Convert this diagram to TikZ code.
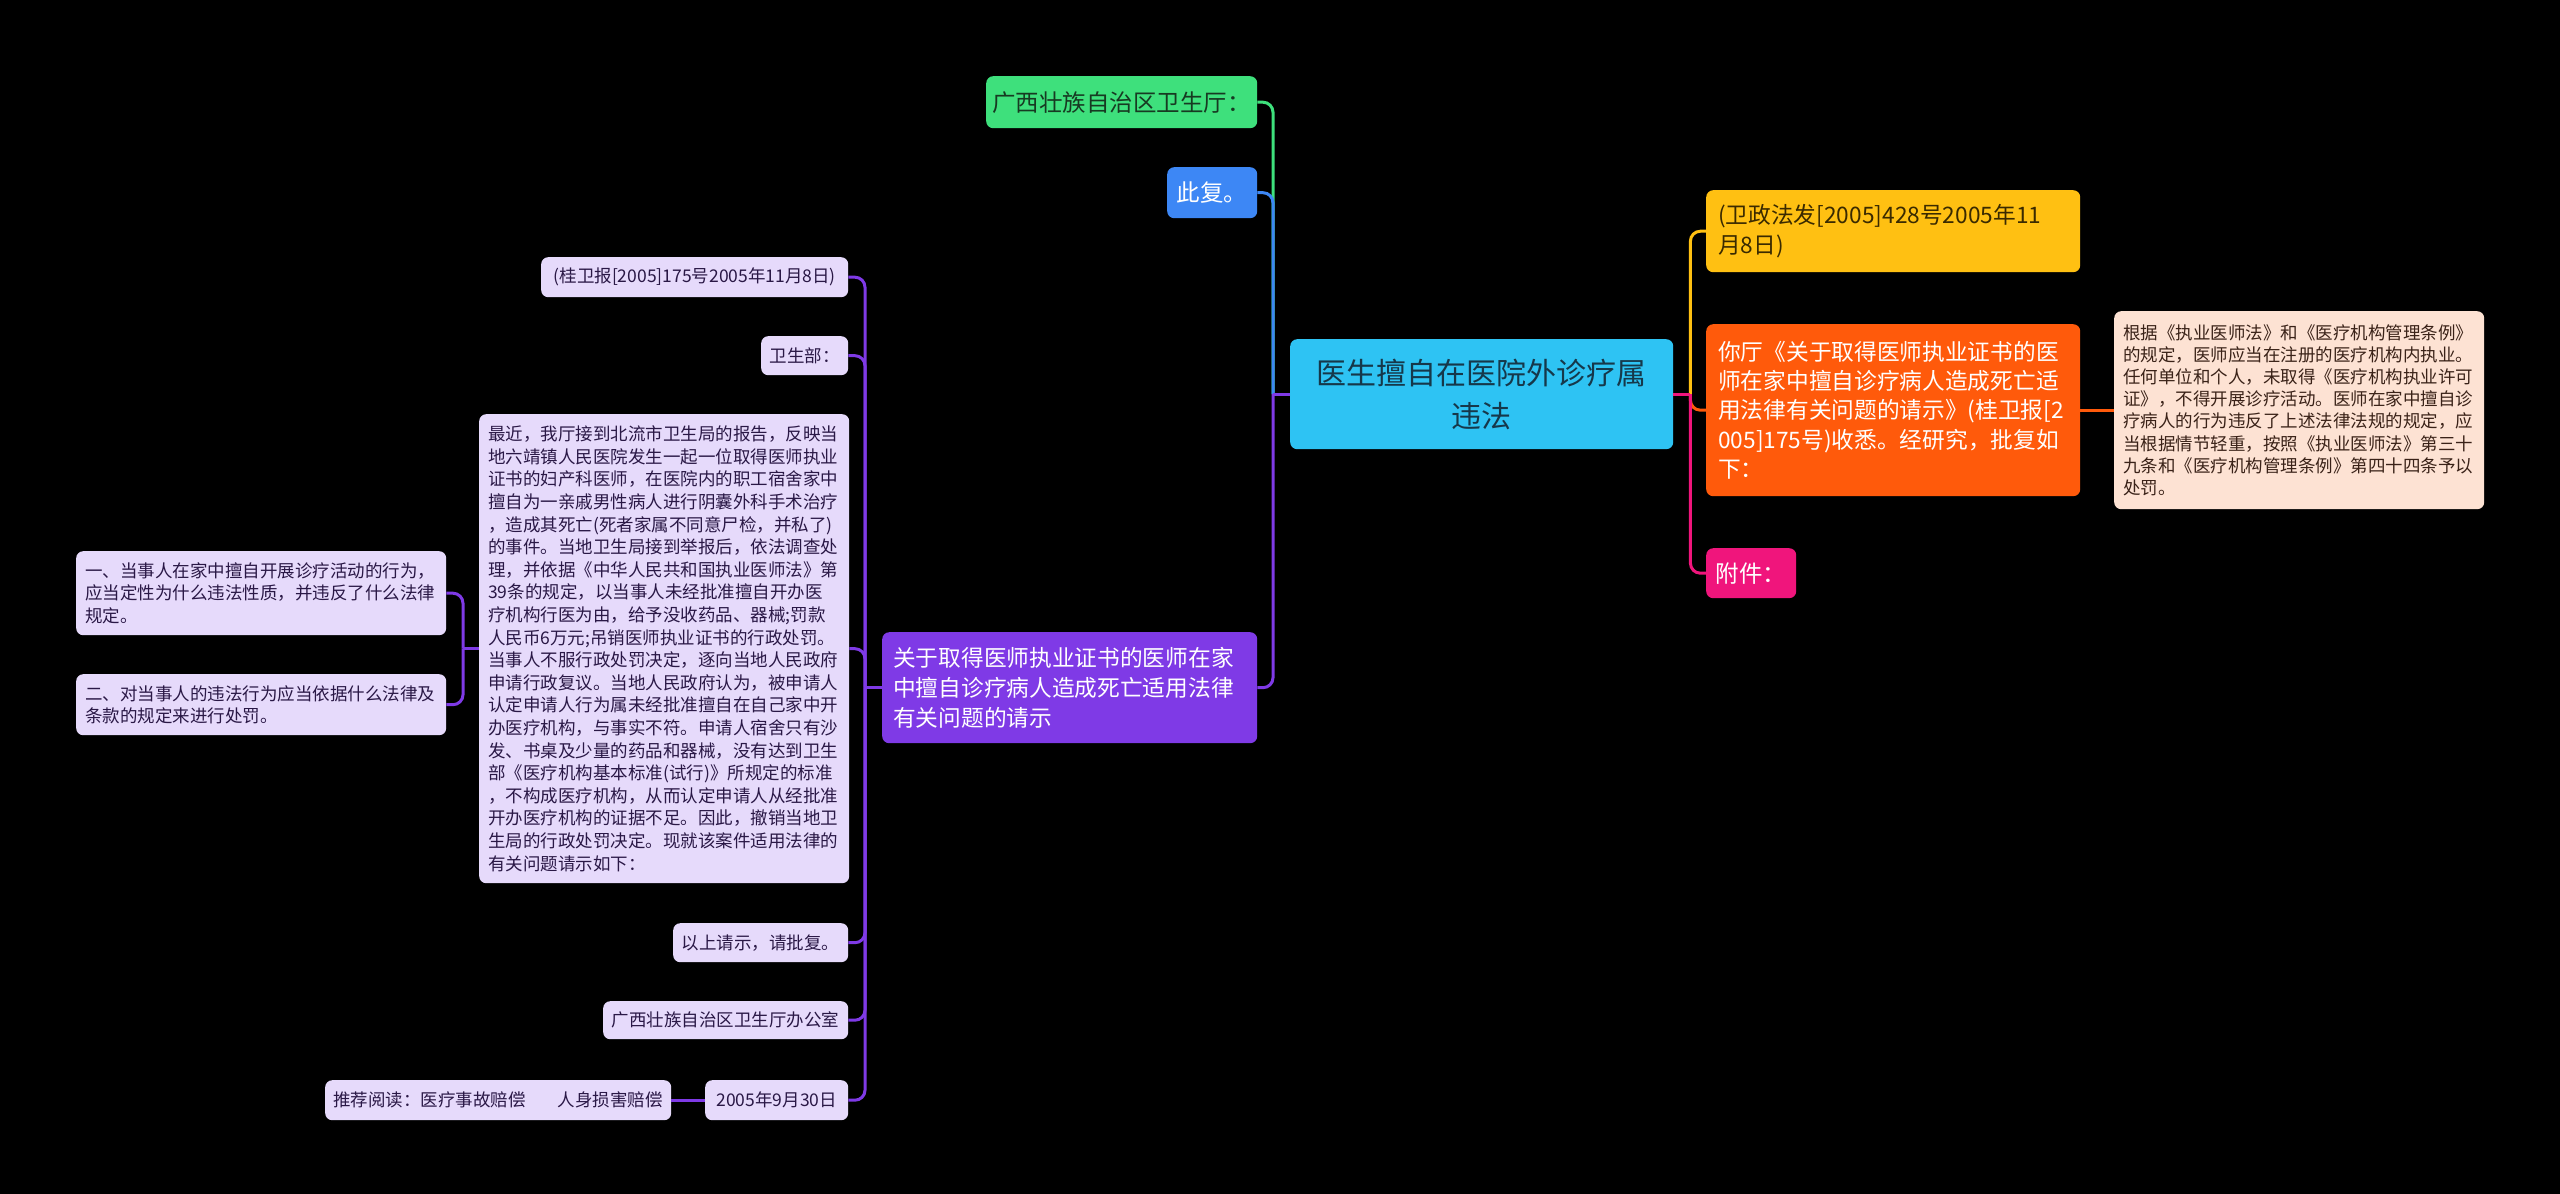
\documentclass[tikz,border=0pt]{standalone}
\usepackage{fontspec}
\newfontfamily\cjk{Noto Sans CJK SC}
\definecolor{cGreen}{HTML}{3EE07C}
\definecolor{cBlue}{HTML}{3D87F5}
\definecolor{cSky}{HTML}{2EC3F3}
\definecolor{cYellow}{HTML}{FFC012}
\definecolor{cOrange}{HTML}{FF5A0B}
\definecolor{cPink}{HTML}{F0157C}
\definecolor{cPeach}{HTML}{FDE2D3}
\definecolor{cPurple}{HTML}{7F3AE6}
\definecolor{cLav}{HTML}{E6DAFB}
\definecolor{tLav}{HTML}{2A1846}
\definecolor{tGreen}{HTML}{173A22}
\definecolor{tSky}{HTML}{16384A}
\definecolor{tYellow}{HTML}{3A2A00}
\definecolor{tPeach}{HTML}{3A2218}
\tikzset{
  box/.style={rounded corners=7pt, inner ysep=0pt, anchor=north west, draw=none},
  fsz/.style 2 args={font=\cjk\fontsize{#1}{#2}\selectfont},
  lav/.style={box, fill=cLav, text=tLav},
  conn/.style={line width=3pt, rounded corners=10pt},
}
\begin{document}
\begin{tikzpicture}[x=1pt,y=-1pt]
\fill[black] (0,0) rectangle (2560,1194);
\useasboundingbox (0,0) rectangle (2560,1194);

% centre
\node[box, fill=cSky, text=tSky, fsz={30}{43}, align=center, minimum width=383pt, minimum height=110pt, inner xsep=0pt] (center) at (1290,339) {医生擅自在医院外诊疗属\\违法};

% top-left branch
\node[box, fill=cGreen, text=tGreen, fsz={23.5}{30}, minimum width=271pt, minimum height=52pt, inner xsep=0pt] (green) at (986,76) {广西壮族自治区卫生厅：};
\node[box, fill=cBlue, text=white, fsz={23.5}{30}, minimum width=90pt, minimum height=51pt, inner xsep=0pt] (blue) at (1167,167) {此复。};
\node[box, fill=cPurple, text=white, fsz={22.7}{30}, align=left, text width=353pt, inner xsep=11pt, minimum height=111pt] (purple) at (882,632) {关于取得医师执业证书的医师在家\\中擅自诊疗病人造成死亡适用法律\\有关问题的请示};

% right branch
\node[box, fill=cYellow, text=tYellow, fsz={22.7}{30}, align=left, text width=350pt, inner xsep=12pt, minimum height=82pt] (yellow) at (1706,190) {(卫政法发[2005]428号2005年11\\月8日)};
\node[box, fill=cOrange, text=white, fsz={22.7}{29.2}, align=left, text width=350pt, inner xsep=12pt, minimum height=172pt] (orange) at (1706,324) {你厅《关于取得医师执业证书的医\\师在家中擅自诊疗病人造成死亡适\\用法律有关问题的请示》(桂卫报[2\\005]175号)收悉。经研究，批复如\\下：};
\node[box, fill=cPink, text=white, fsz={23.5}{30}, minimum width=90pt, minimum height=50pt, inner xsep=0pt] (pink) at (1706,548) {附件：};
\node[box, fill=cPeach, text=tPeach, fsz={17.5}{22.2}, align=left, text width=352pt, inner xsep=9pt, minimum height=198pt] (peach) at (2114,311) {根据《执业医师法》和《医疗机构管理条例》\\的规定，医师应当在注册的医疗机构内执业。\\任何单位和个人，未取得《医疗机构执业许可\\证》，不得开展诊疗活动。医师在家中擅自诊\\疗病人的行为违反了上述法律法规的规定，应\\当根据情节轻重，按照《执业医师法》第三十\\九条和《医疗机构管理条例》第四十四条予以\\处罚。};

% left (purple) children
\node[lav, fsz={17.5}{22}, minimum width=307pt, minimum height=40pt, inner xsep=0pt] (gui) at (541,257) {(桂卫报[2005]175号2005年11月8日)};
\node[lav, fsz={17.5}{22}, minimum width=87pt, minimum height=39pt, inner xsep=0pt] (wsb) at (761,336) {卫生部：};
\node[lav, fsz={17.5}{22.6}, align=left, text width=352pt, inner xsep=9pt, minimum height=469pt] (big) at (479,414) {最近，我厅接到北流市卫生局的报告，反映当\\地六靖镇人民医院发生一起一位取得医师执业\\证书的妇产科医师，在医院内的职工宿舍家中\\擅自为一亲戚男性病人进行阴囊外科手术治疗\\，造成其死亡(死者家属不同意尸检，并私了)\\的事件。当地卫生局接到举报后，依法调查处\\理，并依据《中华人民共和国执业医师法》第\\39条的规定，以当事人未经批准擅自开办医\\疗机构行医为由，给予没收药品、器械;罚款\\人民币6万元;吊销医师执业证书的行政处罚。\\当事人不服行政处罚决定，逐向当地人民政府\\申请行政复议。当地人民政府认为，被申请人\\认定申请人行为属未经批准擅自在自己家中开\\办医疗机构，与事实不符。申请人宿舍只有沙\\发、书桌及少量的药品和器械，没有达到卫生\\部《医疗机构基本标准(试行)》所规定的标准\\，不构成医疗机构，从而认定申请人从经批准\\开办医疗机构的证据不足。因此，撤销当地卫\\生局的行政处罚决定。现就该案件适用法律的\\有关问题请示如下：};
\node[lav, fsz={17.5}{22.6}, align=left, text width=352pt, inner xsep=9pt, minimum height=84pt] (l1) at (76,551) {一、当事人在家中擅自开展诊疗活动的行为，\\应当定性为什么违法性质，并违反了什么法律\\规定。};
\node[lav, fsz={17.5}{22.6}, align=left, text width=352pt, inner xsep=9pt, minimum height=61pt] (l2) at (76,674) {二、对当事人的违法行为应当依据什么法律及\\条款的规定来进行处罚。};
\node[lav, fsz={17.5}{22}, minimum width=175pt, minimum height=39pt, inner xsep=0pt] (yishang) at (673,923) {以上请示，请批复。};
\node[lav, fsz={17.5}{22}, minimum width=245pt, minimum height=38pt, inner xsep=0pt] (bgs) at (603,1001) {广西壮族自治区卫生厅办公室};
\node[lav, fsz={17.5}{22}, minimum width=143pt, minimum height=40pt, inner xsep=0pt] (d2005) at (705,1080) {2005年9月30日};
\node[lav, fsz={17.5}{22}, minimum width=346pt, minimum height=40pt, inner xsep=0pt] (tuijian) at (325,1080) {推荐阅读：医疗事故赔偿\hspace{32pt}人身损害赔偿};

% bus coordinates
\coordinate (busL) at ([xshift=-17pt]center.west);
\coordinate (busR) at ([xshift=17pt]center.east);
\coordinate (busP) at ([xshift=-17pt]purple.west);
\coordinate (busB) at ([xshift=-16pt]big.west);

% centre -> left
\draw[cGreen, conn] (busL) |- (green.east);
\draw[cBlue, conn] (busL) |- (blue.east);
\draw[cPurple, line width=3pt] (center.west) -- (busL);
\draw[cPurple, conn] (busL) |- (purple.east);

% centre -> right
\draw[cYellow, conn] (busR) |- (yellow.west);
\draw[cOrange, conn] (busR) |- (orange.west);
\draw[cPink, line width=3pt] (center.east) -- (busR);
\draw[cPink, conn] (busR) |- (pink.west);
\draw[cOrange, line width=3pt] (orange.east) -- (peach.west);

% purple -> children
\draw[cPurple, line width=3pt] (purple.west) -- (busP);
\draw[cPurple, conn] (busP) |- (gui.east);
\draw[cPurple, conn] (busP) |- (wsb.east);
\draw[cPurple, conn] (busP) |- (big.east);
\draw[cPurple, conn] (busP) |- (yishang.east);
\draw[cPurple, conn] (busP) |- (bgs.east);
\draw[cPurple, conn] (busP) |- (d2005.east);

% big -> left questions
\draw[cPurple, line width=3pt] (big.west) -- (busB);
\draw[cPurple, conn] (busB) |- (l1.east);
\draw[cPurple, conn] (busB) |- (l2.east);

% date -> reading
\draw[cPurple, line width=3pt] (d2005.west) -- (tuijian.east);
\end{tikzpicture}
\end{document}
